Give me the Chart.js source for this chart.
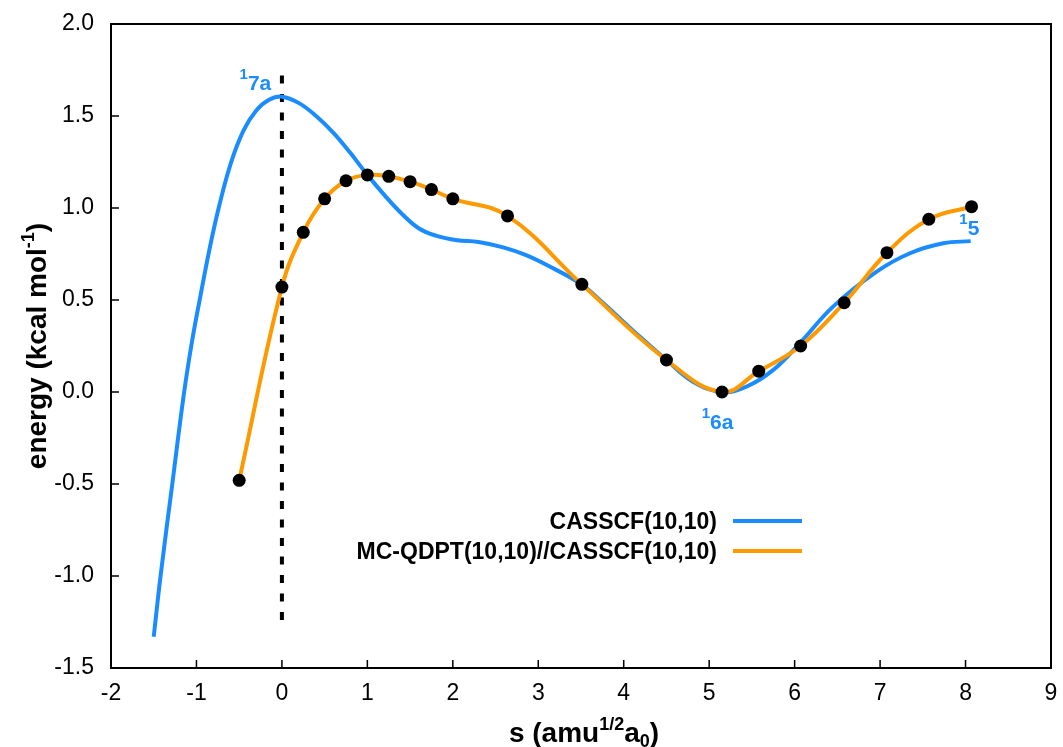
<!DOCTYPE html>
<html>
<head>
<meta charset="utf-8">
<script src="https://cdn.jsdelivr.net/npm/chart.js@4.4.1/dist/chart.umd.min.js"></script>
<style>
  html, body { margin: 0; padding: 0; background: #fff; }
  #wrap { width: 1063px; height: 747px; }
</style>
</head>
<body>
<div id="wrap"><canvas id="irc" width="1063" height="747"></canvas></div>
<script>
// CASSCF(10,10) curve along the reaction path
const sCas = [-1.5, -1.42, -1.28, -1.15, -1.05, -0.95, -0.85, -0.74, -0.6, -0.45, -0.3, -0.15, 0, 0.2, 0.4, 0.6, 0.8, 1.0, 1.2, 1.4, 1.6, 1.8, 2.05, 2.3, 2.6, 2.85, 3.1, 3.49, 3.72, 4.19, 4.5, 4.81, 5.15, 5.44, 5.75, 6.06, 6.45, 6.96, 7.35, 7.74, 8.06];
const eCas = [-1.33, -1.0, -0.49, -0.02, 0.28, 0.53, 0.77, 1.0, 1.24, 1.42, 1.53, 1.588, 1.605, 1.57, 1.50, 1.41, 1.30, 1.18, 1.07, 0.97, 0.89, 0.85, 0.825, 0.815, 0.785, 0.745, 0.69, 0.59, 0.50, 0.30, 0.174, 0.056, 0.0, 0.03, 0.12, 0.265, 0.464, 0.654, 0.754, 0.808, 0.82];

// MC-QDPT single points
const sMc = [-0.5, 0, 0.25, 0.5, 0.75, 1.0, 1.25, 1.5, 1.75, 2.0, 2.64, 3.51, 4.5, 5.15, 5.58, 6.07, 6.58, 7.08, 7.57, 8.07];
const eMc = [-0.48, 0.57, 0.868, 1.05, 1.148, 1.18, 1.172, 1.143, 1.10, 1.05, 0.957, 0.585, 0.174, 0.0, 0.113, 0.25, 0.485, 0.757, 0.939, 1.007];

// transition state marker
const sTs = [0, 0];
const eTs = [1.72, -1.25];

const seriesNames = ["CASSCF(10,10)", "MC-QDPT(10,10)//CASSCF(10,10)"];
const blue = "#1a8cff";
const orange = "#ff9900";

// structure labels: anchor point + pixel offset
const structLabels = [
  { s: 0, e: 1.605, name: "7a", dx: -34, dy: -7 },
  { s: 5.15, e: 0, name: "6a", dx: -12, dy: 37 },
  { s: 8.06, e: 0.82, name: "5", dx: -3, dy: -6 },
];

const FONT = '"Liberation Sans", Arial, sans-serif';

function toPoints(xs, ys) {
  return xs.map((x, i) => ({ x: x, y: ys[i] }));
}

function richText(ctx, parts, x, y, align) {
  // parts: [text, size, shift]
  let w = 0;
  parts.forEach((p) => {
    ctx.font = "bold " + p[1] + "px " + FONT;
    w += ctx.measureText(p[0]).width;
  });
  let cx = align === "right" ? x - w : align === "center" ? x - w / 2 : x;
  parts.forEach((p) => {
    ctx.font = "bold " + p[1] + "px " + FONT;
    ctx.fillText(p[0], cx, y + p[2]);
    cx += ctx.measureText(p[0]).width;
  });
}

const decorPlugin = {
  id: "decor",
  afterDatasetsDraw(chart) {
    const ctx = chart.ctx;
    const xs = chart.scales.x;
    const ys = chart.scales.y;
    const a = chart.chartArea;
    ctx.save();

    // frame
    ctx.strokeStyle = "#000";
    ctx.lineWidth = 2;
    ctx.strokeRect(a.left, a.top, a.right - a.left, a.bottom - a.top);

    // inward ticks
    ctx.lineWidth = 1.5;
    ctx.beginPath();
    xs.ticks.forEach((t) => {
      const px = xs.getPixelForValue(t.value);
      ctx.moveTo(px, a.bottom);
      ctx.lineTo(px, a.bottom - 8);
    });
    ys.ticks.forEach((t) => {
      const py = ys.getPixelForValue(t.value);
      ctx.moveTo(a.left, py);
      ctx.lineTo(a.left + 8, py);
    });
    ctx.stroke();

    // structure labels
    ctx.fillStyle = blue;
    ctx.textBaseline = "alphabetic";
    structLabels.forEach((l) => {
      const px = xs.getPixelForValue(l.s) + l.dx;
      const py = ys.getPixelForValue(l.e) + l.dy;
      ctx.font = "bold 15px " + FONT;
      const w1 = ctx.measureText("1").width;
      ctx.fillText("1", px - w1, py - 11);
      ctx.font = "bold 21px " + FONT;
      ctx.fillText(l.name, px, py);
    });

    // legend
    ctx.fillStyle = "#000";
    const legendColors = [blue, orange];
    seriesNames.forEach((name, i) => {
      const ly = 521 + i * 30;
      richText(ctx, [[name, 23, 0]], 717, ly + 8, "right");
      ctx.strokeStyle = legendColors[i];
      ctx.lineWidth = 4;
      ctx.beginPath();
      ctx.moveTo(733, ly);
      ctx.lineTo(802, ly);
      ctx.stroke();
    });

    // axis titles
    ctx.fillStyle = "#000";
    richText(ctx, [["s (amu", 28, 0], ["1/2", 18, -12], ["a", 28, 0], ["0", 18, 5], [")", 28, 0]],
      (a.left + a.right) / 2 + 3, 742, "center");
    ctx.translate(46, (a.top + a.bottom) / 2);
    ctx.rotate(-Math.PI / 2);
    richText(ctx, [["energy (kcal mol", 28, 0], ["-1", 18, -12], [")", 28, 0]], 0, 0, "center");

    ctx.restore();
  },
};

const ctx = document.getElementById("irc").getContext("2d");
const chart = new Chart(ctx, {
  type: "line",
  data: {
    datasets: [
      {
        label: seriesNames[1],
        data: toPoints(sMc, eMc),
        borderColor: orange,
        borderWidth: 4,
        tension: 0.4,
        pointRadius: 6.5,
        pointBackgroundColor: "#000",
        pointBorderColor: "#000",
        pointBorderWidth: 0,
        fill: false,
        order: 1,
      },
      {
        label: seriesNames[0],
        data: toPoints(sCas, eCas),
        borderColor: blue,
        borderWidth: 4,
        tension: 0.4,
        pointRadius: 0,
        fill: false,
        order: 2,
      },
      {
        label: "TS",
        data: toPoints(sTs, eTs),
        borderColor: "#000",
        borderWidth: 4,
        borderDash: [8, 10.5],
        pointRadius: 0,
        fill: false,
        order: 3,
      },
    ],
  },
  options: {
    responsive: false,
    animation: false,
    devicePixelRatio: 1,
    layout: { padding: { top: 24, right: 12, bottom: 0, left: 0 } },
    plugins: {
      legend: { display: false },
      tooltip: { enabled: false },
    },
    scales: {
      x: {
        type: "linear",
        min: -2,
        max: 9,
        grid: { display: false, drawTicks: false },
        border: { display: false },
        ticks: {
          stepSize: 1,
          padding: 12,
          color: "#000",
          font: { family: FONT, size: 23 },
        },
        afterFit(scale) {
          scale.height = 79;
          scale.paddingLeft = 0;
          scale.paddingRight = 0;
        },
      },
      y: {
        min: -1.5,
        max: 2.0,
        grid: { display: false, drawTicks: false },
        border: { display: false },
        ticks: {
          stepSize: 0.5,
          padding: 17,
          color: "#000",
          font: { family: FONT, size: 23 },
          callback: (v) => v.toFixed(1),
        },
        afterFit(scale) {
          scale.width = 111;
          scale.paddingTop = 0;
          scale.paddingBottom = 0;
        },
      },
    },
  },
  plugins: [decorPlugin],
});
</script>
</body>
</html>
